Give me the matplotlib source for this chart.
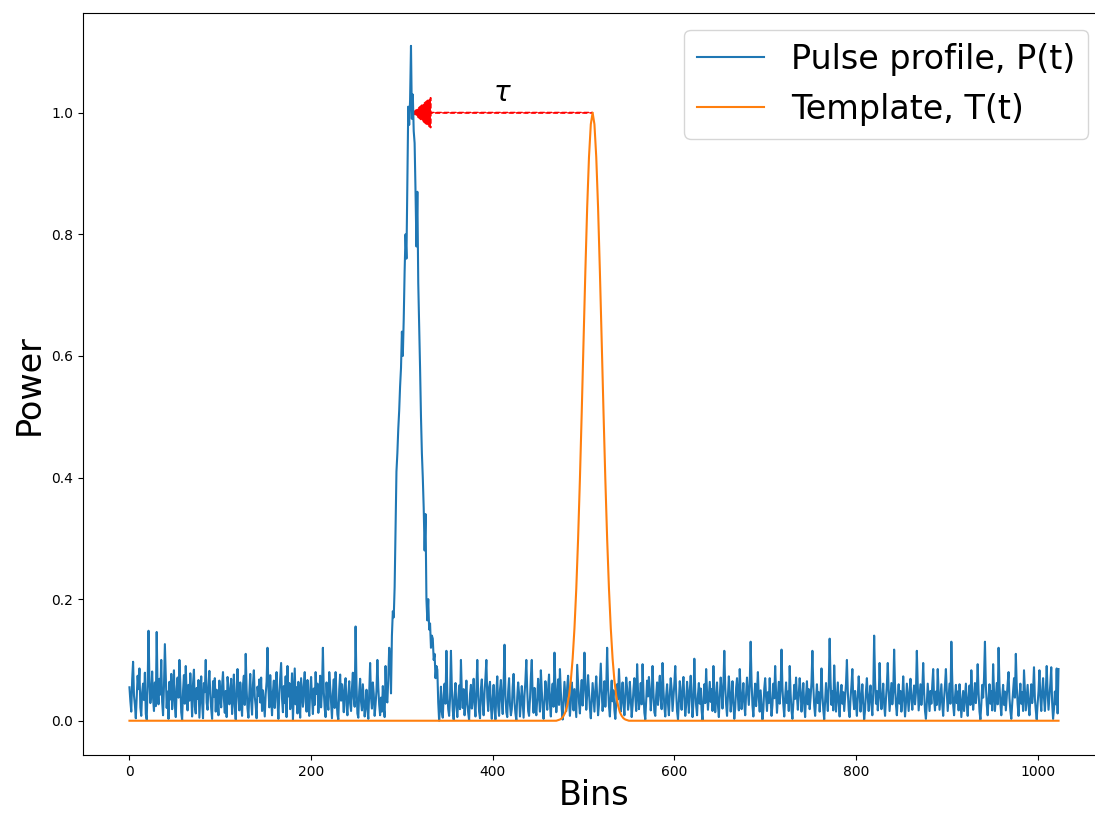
import numpy as np
import matplotlib
matplotlib.use("Agg")
import matplotlib.pyplot as plt

# pulse profile, one value per bin (rows of 16 bins)
pulse_profile = [
    .055, .032, .015, .068, .097, .041, .026, .004, .039, .074, .052, .086, .022, .008, .047, .061,
    .034, .079, .011, .002, .058, .148, .066, .029, .044, .081, .037, .016, .063, .024, .146, .051,
    .027, .069, .043, .100, .031, .009, .056, .126, .072, .021, .048, .003, .064, .035, .077, .019,
    .046, .083, .025, .006, .053, .071, .038, .100, .062, .014, .001, .049, .075, .028, .090, .042,
    .017, .059, .033, .078, .045, .007, .061, .084, .023, .012, .054, .036, .067, .005, .041, .073,
    .029, .004, .062, .047, .100, .030, .018, .057, .082, .044, .020, .003, .065, .039, .070, .015,
    .051, .034, .009, .066, .040, .022, .058, .080, .036, .013, .049, .006, .072, .055, .027, .043,
    .069, .011, .038, .076, .024, .002, .050, .085, .042, .017, .063, .031, .008, .059, .074, .026,
    .110, .052, .020, .005, .046, .077, .033, .010, .060, .083, .039, .025, .004, .056, .041, .068,
    .030, .071, .016, .050, .028, .007, .044, .064, .120, .053, .022, .075, .037, .009, .048, .066,
    .021, .054, .080, .032, .003, .045, .069, .095, .036, .014, .057, .029, .073, .006, .090, .040,
    .062, .019, .035, .078, .001, .043, .086, .027, .055, .012, .064, .030, .005, .070, .046, .023,
    .058, .080, .031, .015, .067, .024, .008, .049, .072, .038, .011, .053, .026, .080, .044, .061,
    .013, .039, .074, .022, .050, .120, .047, .020, .006, .063, .034, .018, .080, .056, .029, .004,
    .045, .068, .021, .080, .036, .010, .002, .052, .076, .033, .060, .041, .014, .058, .070, .025,
    .009, .042, .065, .028, .016, .054, .079, .037, .023, .155, .059, .012, .005, .048, .069, .031,
    .017, .060, .035, .007, .024, .051, .019, .003, .046, .095, .038, .020, .063, .044, .008, .027,
    .049, .100, .055, .026, .009, .038, .015, .057, .022, .006, .090, .034, .030, .070, .120, .100,
    .045, .14, .18, .17, .22, .32, .41, .44, .48, .51, .55, .58, .64, .60, .66, .74,
    .80, .76, .89, 1.01, .98, 1.02, 1.11, .99, 1.03, .97, .95, .87, .78, .87, .72, .65,
    .58, .50, .44, .40, .35, .28, .34, .20, .165, .20, .15, .16, .12, .14, .135, .10,
    .110, .070, .090, .084, .030, .000, .023, .056, .014, .005, .042, .061, .028, .115, .047, .019,
    .008, .036, .115, .054, .017, .002, .040, .062, .025, .006, .033, .058, .019, .100, .046, .021,
    .052, .009, .034, .066, .027, .013, .001, .044, .059, .020, .038, .069, .026, .007, .050, .100,
    .043, .015, .004, .053, .068, .029, .009, .047, .071, .100, .039, .016, .055, .064, .022, .003,
    .037, .059, .018, .002, .046, .073, .024, .008, .051, .067, .032, .011, .060, .125, .041, .014,
    .006, .048, .070, .026, .009, .019, .056, .077, .030, .012, .001, .039, .063, .045, .007, .028,
    .057, .031, .005, .042, .066, .100, .049, .016, .008, .035, .072, .100, .038, .013, .054, .024,
    .009, .036, .069, .040, .015, .083, .050, .022, .003, .031, .065, .046, .018, .053, .076, .027,
    .007, .044, .061, .023, .112, .058, .014, .039, .068, .026, .085, .047, .019, .002, .033, .064,
    .041, .016, .055, .074, .036, .008, .029, .063, .045, .017, .052, .028, .006, .092, .059, .030,
    .012, .046, .067, .025, .053, .112, .060, .018, .043, .075, .049, .021, .004, .032, .062, .038,
    .015, .051, .073, .040, .009, .027, .061, .094, .046, .016, .038, .065, .023, .054, .120, .057,
    .024, .007, .041, .066, .032, .050, .017, .003, .029, .060, .035, .085, .048, .015, .037, .063,
    .028, .009, .044, .071, .053, .018, .030, .064, .037, .006, .025, .052, .070, .039, .016, .093,
    .048, .019, .036, .062, .027, .093, .045, .013, .002, .034, .066, .040, .072, .051, .017, .039,
    .090, .046, .014, .008, .042, .063, .026, .055, .074, .035, .019, .095, .050, .023, .007, .041,
    .060, .028, .009, .044, .070, .052, .016, .038, .061, .090, .047, .015, .002, .033, .065, .036,
    .018, .054, .072, .037, .008, .026, .064, .042, .013, .050, .074, .039, .006, .029, .102, .047,
    .025, .009, .043, .062, .028, .053, .017, .001, .036, .060, .029, .085, .046, .018, .040, .064,
    .031, .052, .016, .090, .048, .014, .037, .063, .025, .006, .041, .071, .050, .020, .058, .115,
    .056, .027, .008, .042, .073, .049, .015, .036, .065, .029, .003, .021, .054, .070, .038, .017,
    .085, .046, .019, .039, .062, .028, .009, .044, .071, .048, .026, .059, .130, .066, .025, .007,
    .038, .061, .024, .049, .080, .036, .015, .050, .027, .002, .018, .053, .070, .039, .016, .047,
    .029, .070, .035, .008, .026, .061, .037, .090, .046, .013, .038, .064, .028, .051, .117, .055,
    .026, .007, .039, .063, .029, .048, .016, .090, .045, .017, .003, .028, .059, .036, .071, .040,
    .018, .044, .070, .048, .015, .037, .062, .026, .006, .041, .065, .027, .052, .019, .038, .063,
    .115, .057, .025, .008, .036, .060, .029, .047, .015, .039, .086, .044, .018, .002, .031, .062,
    .037, .016, .058, .135, .065, .026, .049, .017, .091, .046, .015, .038, .063, .029, .007, .042,
    .059, .028, .047, .016, .039, .061, .100, .048, .017, .006, .037, .058, .085, .036, .019, .049,
    .027, .008, .039, .073, .046, .015, .036, .060, .028, .002, .018, .049, .070, .037, .016, .041,
    .058, .026, .009, .047, .140, .066, .028, .049, .017, .038, .095, .046, .019, .037, .061, .027,
    .008, .036, .059, .095, .048, .016, .039, .062, .027, .046, .117, .057, .026, .009, .038, .060,
    .028, .049, .015, .037, .073, .036, .007, .029, .061, .038, .016, .047, .069, .035, .018, .040,
    .058, .027, .046, .115, .059, .017, .038, .060, .026, .048, .095, .047, .016, .003, .029, .061,
    .038, .016, .049, .028, .059, .085, .036, .017, .048, .026, .085, .047, .018, .039, .060, .027,
    .008, .037, .058, .085, .046, .016, .039, .061, .028, .130, .067, .026, .009, .038, .059, .029,
    .048, .017, .060, .037, .006, .028, .049, .016, .038, .061, .027, .008, .039, .058, .026, .083,
    .047, .018, .036, .062, .029, .048, .093, .046, .015, .002, .027, .059, .038, .071, .130, .058,
    .026, .009, .037, .060, .028, .049, .017, .093, .047, .016, .039, .062, .027, .120, .059, .028,
    .009, .038, .059, .026, .048, .017, .039, .061, .080, .037, .016, .003, .028, .049, .070, .038,
    .110, .058, .027, .008, .039, .061, .028, .047, .016, .083, .048, .017, .038, .059, .026, .009,
    .037, .060, .029, .048, .088, .036, .017, .002, .028, .049, .083, .039, .016, .047, .070, .038,
    .016, .048, .090, .047, .018, .039, .061, .088, .029, .003, .019, .048, .027, .086, .012, .085,
]

# template, sampled around its peak, zero elsewhere
template_bins = [0, 470, 472, 474, 476, 478, 480, 482, 484, 486, 488, 490, 492, 494,
                 496, 498, 500, 502, 504, 506, 508, 510, 512, 514, 516, 518, 520, 522,
                 524, 526, 528, 530, 532, 534, 536, 538, 540, 542, 544, 546, 548, 550, 1023]
template_vals = [0, 0, .001, .002, .004, .008, .014, .025, .041, .066, .102, .152, .217,
                 .299, .397, .507, .624, .739, .844, .927, .981, 1.0, .981, .927, .844,
                 .739, .624, .507, .397, .299, .217, .152, .102, .066, .041, .025, .014,
                 .008, .004, .002, .001, 0, 0]

# arrow showing the shift tau
arrow_start = 510
arrow_end = 312
arrow_level = 1.0

bins = np.arange(len(pulse_profile))

fig = plt.figure(figsize=(10.95, 8.14), dpi=100)
ax = fig.add_axes([0.0758, 0.0720, 0.9333, 0.9120])

ax.plot(bins, pulse_profile, label='Pulse profile, P(t)')
ax.plot(template_bins, template_vals, label='Template, T(t)')

ax.arrow(arrow_start, arrow_level, arrow_end - arrow_start, 0, head_width=0.05,
         head_length=20, length_includes_head=True, color='r', ls='--')
ax.text(400, 1.02, r'$\tau$', fontsize=20)

ax.set_ylim(-0.057, 1.164)
ax.set_xlabel('Bins', fontsize=24, labelpad=0)
ax.set_ylabel('Power', fontsize=24)
ax.legend(fontsize=24, loc='upper right')

fig.savefig('out.png', dpi=100)
